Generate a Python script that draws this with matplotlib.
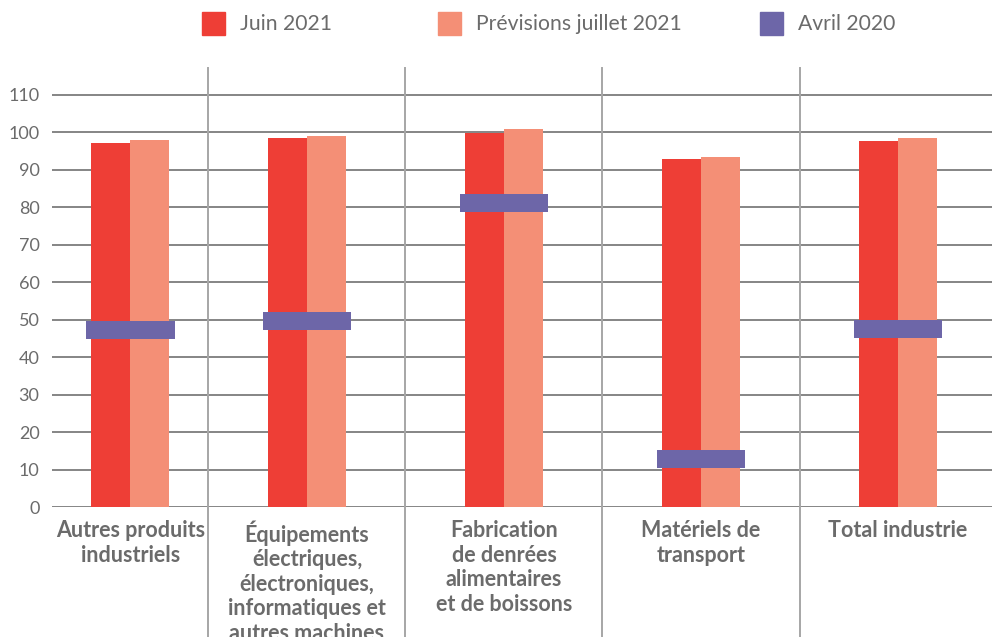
import numpy as np
import matplotlib
matplotlib.use("Agg")
import matplotlib.pyplot as plt
from matplotlib.patches import Rectangle

categories = [
    "Autres produits\nindustriels",
    "Équipements\nélectriques,\nélectroniques,\ninformatiques et\nautres machines",
    "Fabrication\nde denrées\nalimentaires\net de boissons",
    "Matériels de\ntransport",
    "Total industrie",
]
juin_2021 = [97.2, 98.5, 99.9, 92.9, 97.7]
prev_juillet_2021 = [98.0, 99.1, 100.9, 93.5, 98.5]
avril_2020 = [47.3, 49.7, 81.2, 12.8, 47.5]
series_names = ["Juin 2021", "Prévisions juillet 2021", "Avril 2020"]
colors = ["#EE3E36", "#F48F76", "#6D66A8"]

plt.rcParams["font.family"] = ["Lato", "DejaVu Sans"]
text_color = "#6b6b6b"

fig = plt.figure(figsize=(9.92, 6.37), dpi=100)
ax = fig.add_axes([52 / 992, 1 - 507 / 637, 1 - 52 / 992, 439 / 637])

xmin, xmax = -0.294, 4.477
ax.set_xlim(xmin, xmax)
ax.set_ylim(0, 117.2)

# category centres: midpoints between axis edge / separators
bounds = [xmin, 0.5, 1.5, 2.5, 3.5, xmax]
x = np.arange(len(categories), dtype=float)
x[0] = (bounds[0] + bounds[1]) / 2

bw = 0.197
ax.bar(x - bw / 2, juin_2021, bw, color=colors[0], zorder=3)
ax.bar(x + bw / 2, prev_juillet_2021, bw, color=colors[1], zorder=3)
band = 4.8
ax.bar(x, [band] * len(x), 0.45, bottom=np.array(avril_2020) - band / 2,
       color=colors[2], zorder=4)

ax.set_yticks(np.arange(0, 111, 10))
ax.yaxis.grid(True, color="#858585", linewidth=1.4)
ax.set_axisbelow(True)
ax.tick_params(axis="y", length=0, pad=9, labelsize=13, labelcolor=text_color)
ax.set_xticks([])
for s in ax.spines.values():
    s.set_visible(False)

for b in bounds[1:-1]:
    ax.axvline(b, ymin=-0.3, ymax=1, color="#a6a6a6", linewidth=1.4,
               clip_on=False, zorder=1)

for xi, label in zip(x, categories):
    ax.text(xi, -3.6, label, ha="center", va="top", fontsize=15.5,
            fontweight="bold", color=text_color, linespacing=1.2)

# legend
leg_x = [202, 438, 760]
for lx, name, c in zip(leg_x, series_names, colors):
    fig.add_artist(Rectangle((lx / 992, 1 - 35 / 637), 23 / 992, 23 / 637,
                             transform=fig.transFigure, color=c))
    fig.text((lx + 38) / 992, 1 - 24 / 637, name, ha="left", va="center",
             fontsize=15.2, color=text_color)

fig.savefig("out.png", dpi=100)
